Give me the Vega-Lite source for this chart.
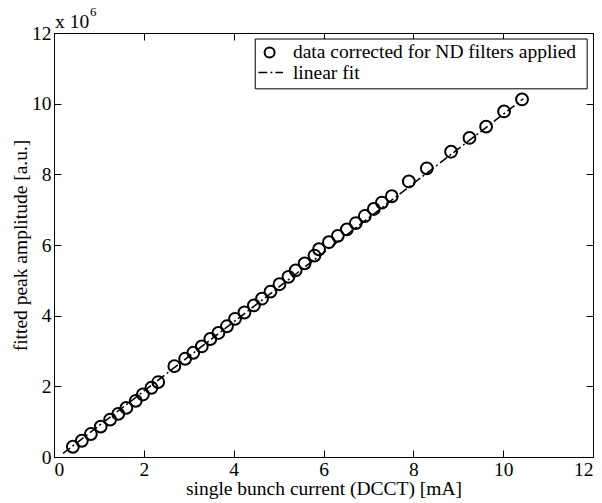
{
  "$schema": "https://vega.github.io/schema/vega-lite/v6.json",
  "width": 539,
  "height": 424,
  "autosize": "none",
  "padding": {"left": 54, "top": 33, "right": 9, "bottom": 46},
  "background": "white",
  "config": {
    "font": "Liberation Serif",
    "view": {"stroke": "black", "strokeWidth": 1},
    "axis": {
      "grid": false,
      "domain": true,
      "domainColor": "black",
      "domainWidth": 1,
      "ticks": true,
      "tickColor": "black",
      "tickWidth": 1,
      "tickSize": -7,
      "labelColor": "black",
      "titleColor": "black",
      "labelFont": "Liberation Serif",
      "titleFont": "Liberation Serif",
      "labelFontSize": 19.5,
      "titleFontSize": 19.5,
      "titleFontWeight": "normal",
      "labelPadding": 10
    }
  },
  "datasets": {
    "points": [
      {"current": 0.42, "amp": 0.29}, {"current": 0.62, "amp": 0.46}, {"current": 0.82, "amp": 0.65},
      {"current": 1.04, "amp": 0.86}, {"current": 1.25, "amp": 1.06}, {"current": 1.43, "amp": 1.22},
      {"current": 1.61, "amp": 1.39}, {"current": 1.82, "amp": 1.59}, {"current": 1.98, "amp": 1.77},
      {"current": 2.17, "amp": 1.96}, {"current": 2.32, "amp": 2.12}, {"current": 2.68, "amp": 2.57},
      {"current": 2.92, "amp": 2.78}, {"current": 3.10, "amp": 2.95}, {"current": 3.29, "amp": 3.13},
      {"current": 3.48, "amp": 3.34}, {"current": 3.66, "amp": 3.51}, {"current": 3.85, "amp": 3.70},
      {"current": 4.03, "amp": 3.91}, {"current": 4.24, "amp": 4.09}, {"current": 4.45, "amp": 4.29},
      {"current": 4.63, "amp": 4.48}, {"current": 4.82, "amp": 4.68}, {"current": 5.02, "amp": 4.89},
      {"current": 5.22, "amp": 5.10}, {"current": 5.38, "amp": 5.28}, {"current": 5.58, "amp": 5.48},
      {"current": 5.80, "amp": 5.70}, {"current": 5.90, "amp": 5.88}, {"current": 6.12, "amp": 6.08},
      {"current": 6.32, "amp": 6.26}, {"current": 6.52, "amp": 6.44}, {"current": 6.72, "amp": 6.62},
      {"current": 6.92, "amp": 6.82}, {"current": 7.12, "amp": 7.02}, {"current": 7.30, "amp": 7.20},
      {"current": 7.52, "amp": 7.38}, {"current": 7.90, "amp": 7.80}, {"current": 8.30, "amp": 8.17},
      {"current": 8.84, "amp": 8.64}, {"current": 9.25, "amp": 9.03}, {"current": 9.62, "amp": 9.35},
      {"current": 10.02, "amp": 9.78}, {"current": 10.42, "amp": 10.12}
    ],
    "fit": [
      {"current": 0.2, "amp": 0.1},
      {"current": 10.45, "amp": 10.14}
    ],
    "legendbox": [{"x1": 4.48, "x2": 11.87, "y1": 10.42, "y2": 11.83}],
    "legendmarker": [{"x": 4.8, "y": 11.45}],
    "legendline": [{"x1": 4.55, "x2": 5.1, "y": 10.88}],
    "legendtext": [
      {"x": 5.32, "y": 11.45, "label": "data corrected for ND filters applied"},
      {"x": 5.32, "y": 10.88, "label": "linear fit"}
    ],
    "expbase": [{"x": 0, "y": 12, "label": "x 10"}],
    "expsup": [{"x": 0, "y": 12, "label": "6"}]
  },
  "layer": [
    {
      "data": {"name": "fit"},
      "mark": {"type": "line", "color": "black", "strokeWidth": 1.5, "strokeDash": [9, 3, 2, 3]},
      "encoding": {
        "x": {"field": "current", "type": "quantitative", "scale": {"domain": [0, 12], "nice": false},
              "axis": {"orient": "top", "labels": false, "title": null, "tickCount": 6}},
        "y": {"field": "amp", "type": "quantitative", "scale": {"domain": [0, 12], "nice": false},
              "axis": {"orient": "right", "labels": false, "title": null, "tickCount": 6}}
      }
    },
    {
      "data": {"name": "points"},
      "mark": {"type": "point", "shape": "circle", "filled": false, "color": "black", "size": 140, "strokeWidth": 2, "opacity": 1},
      "encoding": {
        "x": {"field": "current", "type": "quantitative", "scale": {"domain": [0, 12], "nice": false},
              "axis": {"orient": "bottom", "title": "single bunch current (DCCT) [mA]", "tickCount": 6, "titlePadding": 1}},
        "y": {"field": "amp", "type": "quantitative", "scale": {"domain": [0, 12], "nice": false},
              "axis": {"orient": "left", "title": "fitted peak amplitude [a.u.]", "tickCount": 6, "titlePadding": 1}}
      }
    },
    {
      "data": {"name": "legendbox"},
      "mark": {"type": "rect", "fill": "white", "stroke": "black", "strokeWidth": 1},
      "encoding": {
        "x": {"field": "x1", "type": "quantitative", "axis": null},
        "x2": {"field": "x2"},
        "y": {"field": "y1", "type": "quantitative", "axis": null},
        "y2": {"field": "y2"}
      }
    },
    {
      "data": {"name": "legendmarker"},
      "mark": {"type": "point", "shape": "circle", "filled": false, "color": "black", "size": 100, "strokeWidth": 2, "opacity": 1},
      "encoding": {
        "x": {"field": "x", "type": "quantitative", "axis": null},
        "y": {"field": "y", "type": "quantitative", "axis": null}
      }
    },
    {
      "data": {"name": "legendline"},
      "mark": {"type": "rule", "color": "black", "strokeWidth": 1.5, "strokeDash": [9, 3, 2, 3]},
      "encoding": {
        "x": {"field": "x1", "type": "quantitative", "axis": null},
        "x2": {"field": "x2"},
        "y": {"field": "y", "type": "quantitative", "axis": null}
      }
    },
    {
      "data": {"name": "legendtext"},
      "mark": {"type": "text", "align": "left", "baseline": "middle", "fontSize": 19.5, "font": "Liberation Serif", "color": "black"},
      "encoding": {
        "x": {"field": "x", "type": "quantitative", "axis": null},
        "y": {"field": "y", "type": "quantitative", "axis": null},
        "text": {"field": "label"}
      }
    },
    {
      "data": {"name": "expbase"},
      "mark": {"type": "text", "align": "left", "baseline": "alphabetic", "fontSize": 19.5, "font": "Liberation Serif", "color": "black", "dx": 1, "dy": -5},
      "encoding": {
        "x": {"field": "x", "type": "quantitative", "axis": null},
        "y": {"field": "y", "type": "quantitative", "axis": null},
        "text": {"field": "label"}
      }
    },
    {
      "data": {"name": "expsup"},
      "mark": {"type": "text", "align": "left", "baseline": "alphabetic", "fontSize": 13, "font": "Liberation Serif", "color": "black", "dx": 36, "dy": -17},
      "encoding": {
        "x": {"field": "x", "type": "quantitative", "axis": null},
        "y": {"field": "y", "type": "quantitative", "axis": null},
        "text": {"field": "label"}
      }
    }
  ],
  "resolve": {"axis": {"x": "independent", "y": "independent"}}
}
